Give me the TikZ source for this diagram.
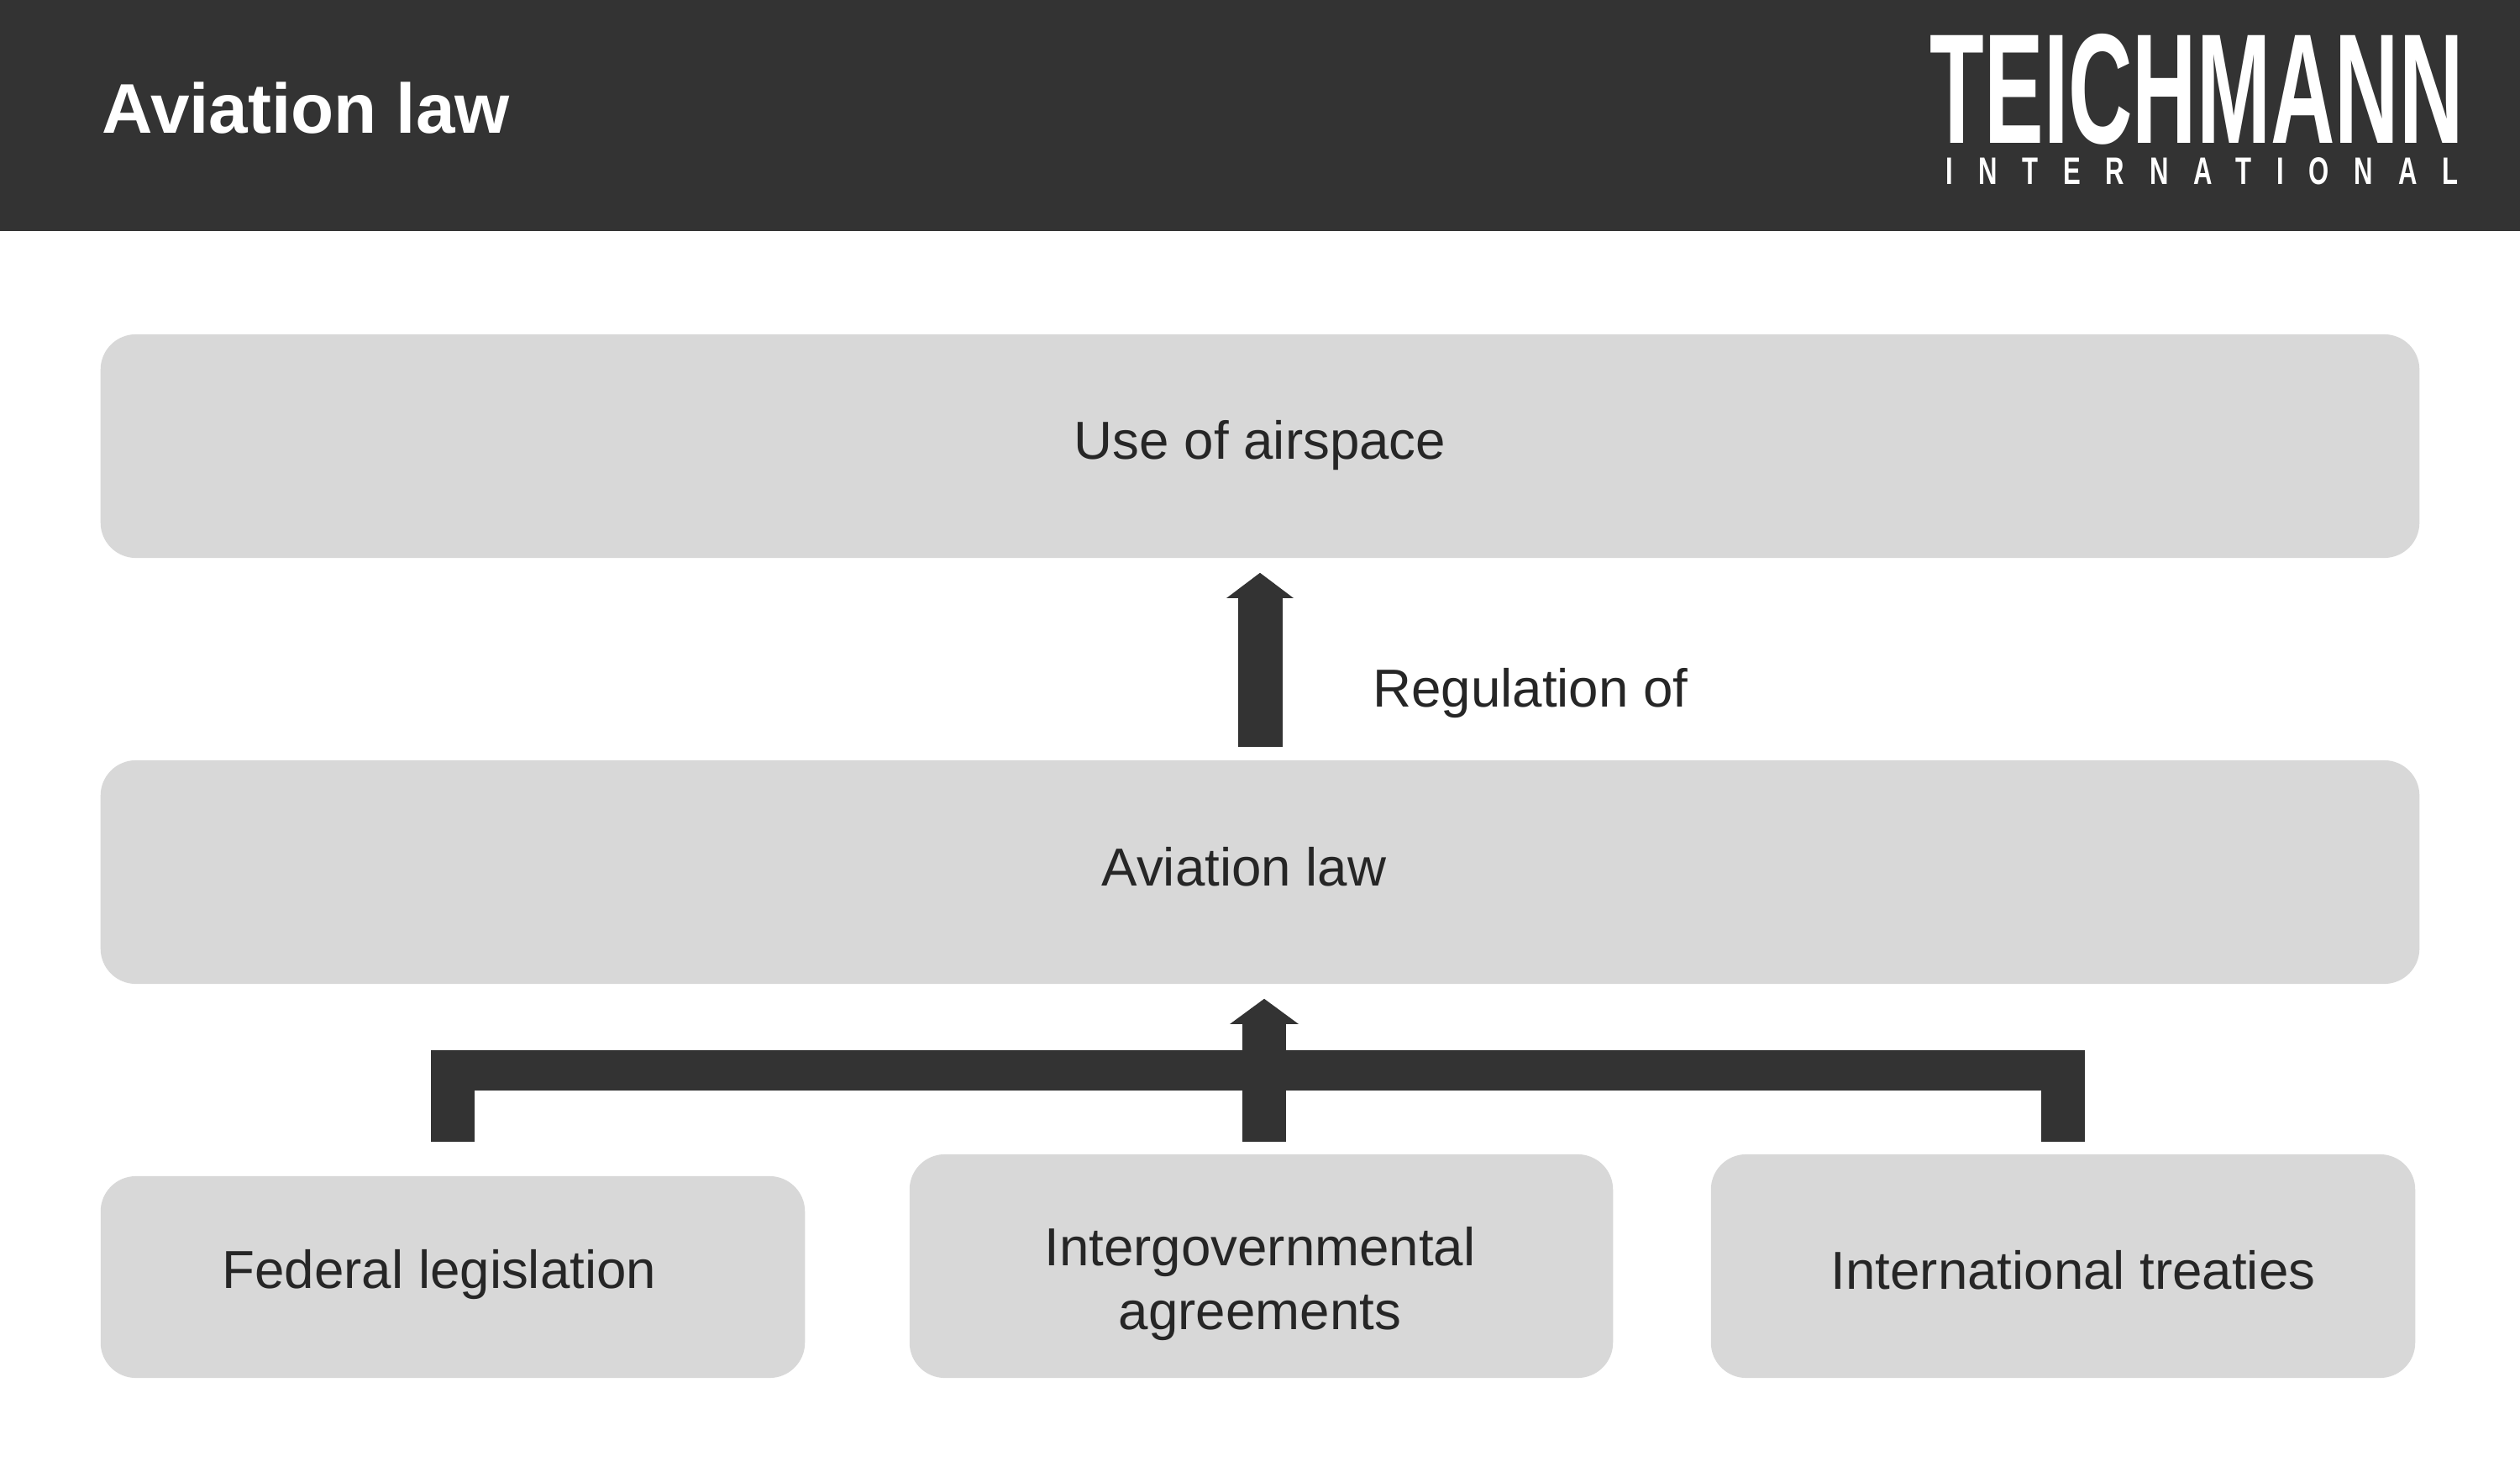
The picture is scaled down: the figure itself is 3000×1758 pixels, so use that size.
\documentclass[tikz,border=0pt]{standalone}
\usepackage{fontspec}
\setmainfont{Liberation Sans}
\newfontfamily\logofont[FakeStretch=0.568]{Liberation Sans Bold}
\newfontfamily\sublogofont[FakeStretch=0.68,LetterSpace=65.3]{Liberation Sans Bold}
\usetikzlibrary{arrows.meta}
\definecolor{headcol}{HTML}{333333}
\definecolor{boxcol}{HTML}{D8D8D8}
\definecolor{textcol}{HTML}{262626}
\tikzset{
    panel/.style={fill=boxcol,rounded corners=0.42cm,inner sep=0pt,minimum height=#1},
    panel/.default=2.66cm,
    lab/.style={text=textcol,font=\fontsize{18.1}{21.7}\selectfont,inner sep=0pt,anchor=base},
    bigarrow/.style={headcol,line width=0.53cm,-{Triangle[width=0.78cm,length=0.3cm]}},
    bararrow/.style={headcol,line width=0.52cm,-{Triangle[width=0.80cm,length=0.3cm]}},
    leg/.style={headcol,line width=0.52cm},
    bar/.style={headcol,line width=0.48cm}
}

\begin{document}
\begin{tikzpicture}[x=0.01cm,y=-0.01cm]
    \useasboundingbox (0,0) rectangle (3000,1758);
    % header
    \fill[headcol] (0,0) rectangle (3000,275);
    \node[text=white,font=\fontsize{23.8}{24}\selectfont\bfseries,inner sep=0pt,anchor=base west] (title) at (121,159) {Aviation law};
    \node[text=white,font=\logofont\fontsize{53}{53}\selectfont,inner sep=0pt,anchor=base west] (logo) at (2297,171) {TEICHMANN};
    \node[text=white,font=\sublogofont\fontsize{13}{13}\selectfont,inner sep=0pt,anchor=base west] (sublogo) at (2316,220) {INTERNATIONAL};
    % boxes
    \node[panel,minimum width=27.59cm] (use) at (1500,531) {};
    \node[panel,minimum width=27.59cm] (law) at (1500,1038) {};
    \node[panel=2.40cm,minimum width=8.38cm] (fed) at (539,1520) {};
    \node[panel=2.66cm,minimum width=8.37cm] (inter) at (1501.5,1507) {};
    \node[panel=2.66cm,minimum width=8.38cm] (treaty) at (2456,1507) {};
    % labels
    \node[lab] (uselab) at (1500,547) {Use of airspace};
    \node[lab] (reglab) at (1822,841) {Regulation of};
    \node[lab] (lawlab) at (1481,1054) {Aviation law};
    \node[lab] (fedlab) at (523,1533) {Federal legislation};
    \node[lab,anchor=center,align=center] (interlab) at (1500,1528) {Intergovernmental\\agreements};
    \node[lab] (treatylab) at (2468,1534) {International treaties};
    % arrows
    \draw[bigarrow] ([yshift=0.15cm]law.north) -- ([yshift=-0.17cm]use.south);
    \coordinate (barleft) at (513,1274);
    \coordinate (barright) at (2482,1274);
    \draw[bar] (barleft) -- (barright);
    \draw[leg] ([yshift=0.40cm]fed.north) -- (fed.north |- barleft);
    \draw[leg] ([yshift=0.14cm]treaty.north) -- (treaty.north |- barright);
    \draw[bararrow] ([xshift=0.035cm,yshift=0.14cm]inter.north) -- ([xshift=0.035cm,yshift=-0.17cm]inter.north |- law.south);
\end{tikzpicture}
\end{document}
